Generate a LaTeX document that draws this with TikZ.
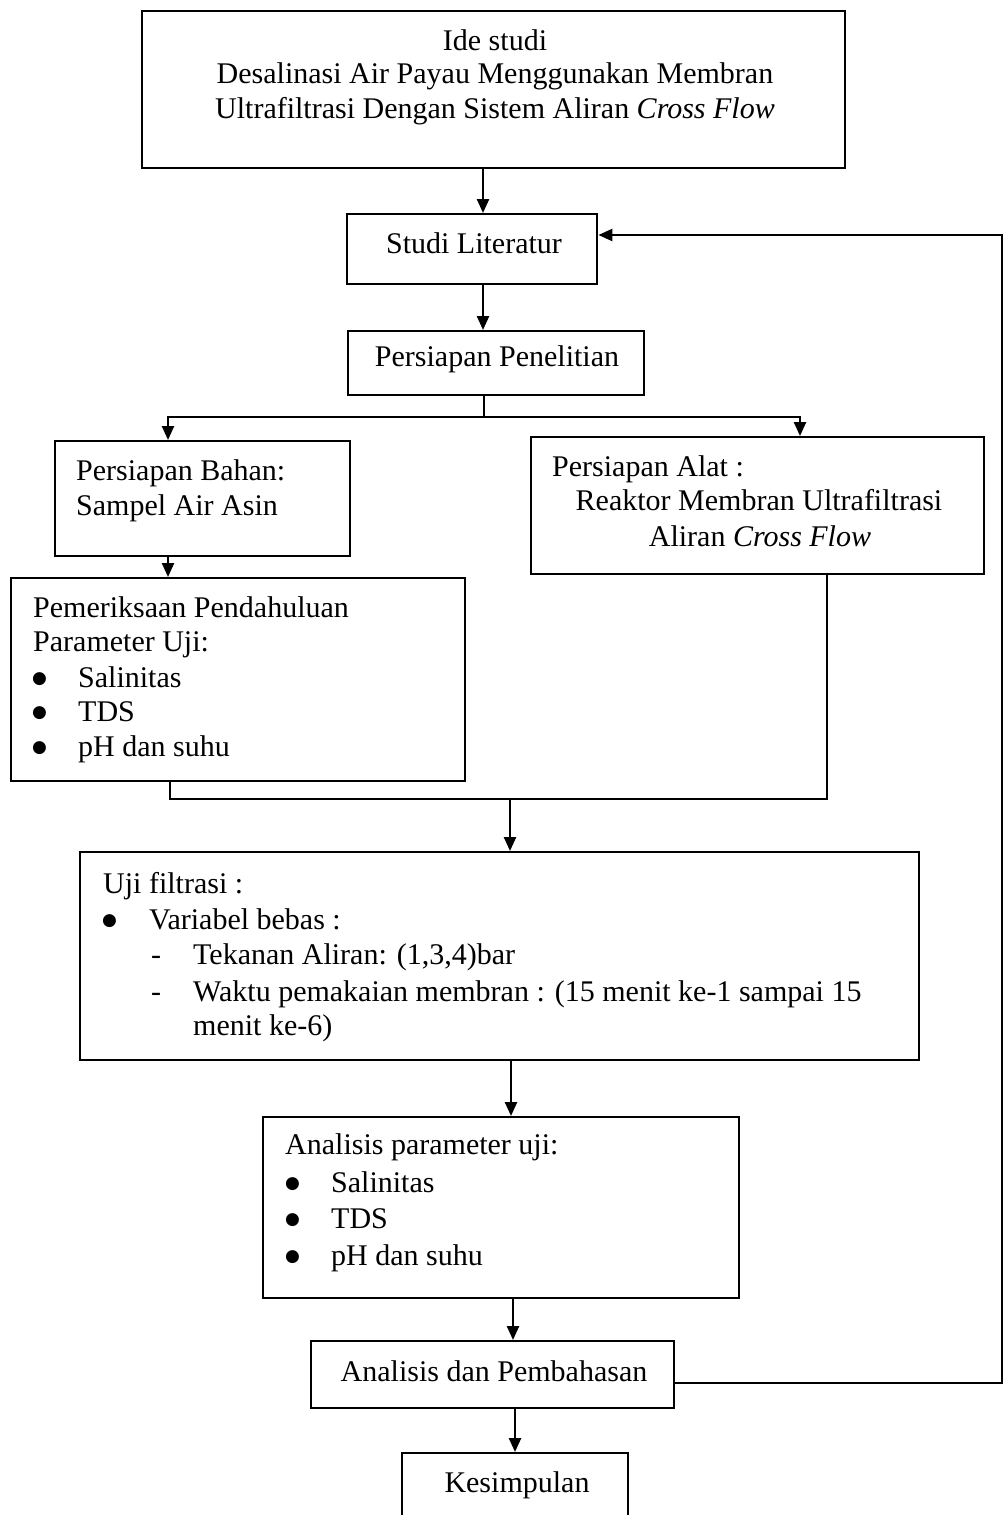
\documentclass[tikz,border=0pt]{standalone}
\usepackage{fontspec}
\setmainfont{Liberation Serif}
\newfontfamily\dejavu{DejaVu Sans}
\usetikzlibrary{arrows.meta}
\newcommand{\bigbul}[1]{\makebox[#1][l]{\kern-2pt\raisebox{4pt}{\dejavu\fontsize{17}{17}\selectfont ●}}}
\begin{document}
\begin{tikzpicture}[x=1pt,y=-1pt,
  box/.style={draw,line width=2.4pt,inner sep=0pt,anchor=north west},
  arr/.style={line width=2.4pt,-{Triangle[length=14pt,width=12pt]}},
  ln/.style={line width=2.4pt},
  txt/.style={inner sep=0pt,font=\fontsize{30}{36}\selectfont},
  tl/.style={txt,anchor=base west},
  tc/.style={txt,anchor=base}]
\useasboundingbox (0,0) rectangle (1004,1515);
\clip (0,0) rectangle (1004,1515);

% boxes
\node[box,minimum width=703pt,minimum height=157pt] (ide) at (141,10) {};
\node[box,minimum width=250pt,minimum height=70pt] (studi) at (346,213) {};
\node[box,minimum width=296pt,minimum height=64pt] (pen) at (347,330) {};
\node[box,minimum width=295pt,minimum height=115pt] (bahan) at (54,440) {};
\node[box,minimum width=453pt,minimum height=137pt] (alat) at (530,436) {};
\node[box,minimum width=454pt,minimum height=203pt] (periksa) at (10,577) {};
\node[box,minimum width=839pt,minimum height=208pt] (uji) at (79,851) {};
\node[box,minimum width=476pt,minimum height=181pt] (param) at (262,1116) {};
\node[box,minimum width=363pt,minimum height=67pt] (bahas) at (310,1340) {};
\node[box,minimum width=226pt,minimum height=120pt] (simpul) at (401,1452) {};

% texts
\node[tc] (t1a) at (495,50) {Ide studi};
\node[tc] (t1b) at (495,83) {Desalinasi Air Payau Menggunakan Membran};
\node[tc] (t1c) at (495,118) {Ultrafiltrasi Dengan Sistem Aliran \textit{Cross Flow}};
\node[tc] (t2) at (474,253) {Studi Literatur};
\node[tc] (t3) at (497,366) {Persiapan Penelitian};
\node[tl] (t4a) at (76,480) {Persiapan Bahan:};
\node[tl] (t4b) at (76,515) {Sampel Air Asin};
\node[tl] (t5a) at (552,476) {Persiapan Alat :};
\node[tc] (t5b) at (759,510) {Reaktor Membran Ultrafiltrasi};
\node[tc] (t5c) at (760,546) {Aliran \textit{Cross Flow}};
\node[tl] (t6a) at (33,617) {Pemeriksaan Pendahuluan};
\node[tl] (t6b) at (33,651) {Parameter Uji:};
\node[tl] (t6c) at (34,687) {\bigbul{44pt}Salinitas};
\node[tl] (t6d) at (34,721) {\bigbul{44pt}TDS};
\node[tl] (t6e) at (34,756) {\bigbul{44pt}pH dan suhu};
\node[tl] (t7a) at (103,893) {Uji filtrasi :};
\node[tl] (t7b) at (104,929) {\bigbul{45pt}Variabel bebas :};
\node[tl] (t7c) at (151,964) {\makebox[42pt][l]{-}Tekanan Aliran: (1,3,4)bar};
\node[tl] (t7d) at (151,1001) {\makebox[42pt][l]{-}Waktu pemakaian membran : (15 menit ke-1 sampai 15};
\node[tl] (t7e) at (193,1035) {menit ke-6)};
\node[tl] (t8a) at (285,1154) {Analisis parameter uji:};
\node[tl] (t8b) at (287,1192) {\bigbul{44pt}Salinitas};
\node[tl] (t8c) at (287,1228) {\bigbul{44pt}TDS};
\node[tl] (t8d) at (287,1265) {\bigbul{44pt}pH dan suhu};
\node[tc] (t9) at (494,1381) {Analisis dan Pembahasan};
\node[tc] (t10) at (517,1492) {Kesimpulan};

% connectors
\coordinate (xa) at (483,0);
\draw[arr] (ide.south -| xa) -- (studi.north -| xa);
\draw[arr] (studi.south -| xa) -- (pen.north -| xa);
\coordinate (split) at (484,417);
\coordinate (xb) at (168,0);
\coordinate (xc) at (800,0);
\draw[ln] (pen.south -| split) -- (split);
\draw[arr] (split) -| (bahan.north -| xb);
\draw[arr] (split) -| (alat.north -| xc);
\draw[arr] (bahan.south -| xb) -- (periksa.north -| xb);
\coordinate (merge) at (510,799);
\coordinate (xd) at (170,0);
\coordinate (xe) at (827,0);
\draw[ln] (periksa.south -| xd) |- (merge) -| (alat.south -| xe);
\draw[arr] (merge) -- (uji.north -| merge);
\coordinate (xf) at (511,0);
\draw[arr] (uji.south -| xf) -- (param.north -| xf);
\coordinate (xg) at (513,0);
\draw[arr] (param.south -| xg) -- (bahas.north -| xg);
\coordinate (xh) at (515,0);
\draw[arr] (bahas.south -| xh) -- (simpul.north -| xh);
\coordinate (fb1) at (1002,1383);
\coordinate (fb2) at (1002,235);
\draw[arr] (bahas.east |- fb1) -- (fb1) -- (fb2) -- (studi.east |- fb2);
\end{tikzpicture}
\end{document}
